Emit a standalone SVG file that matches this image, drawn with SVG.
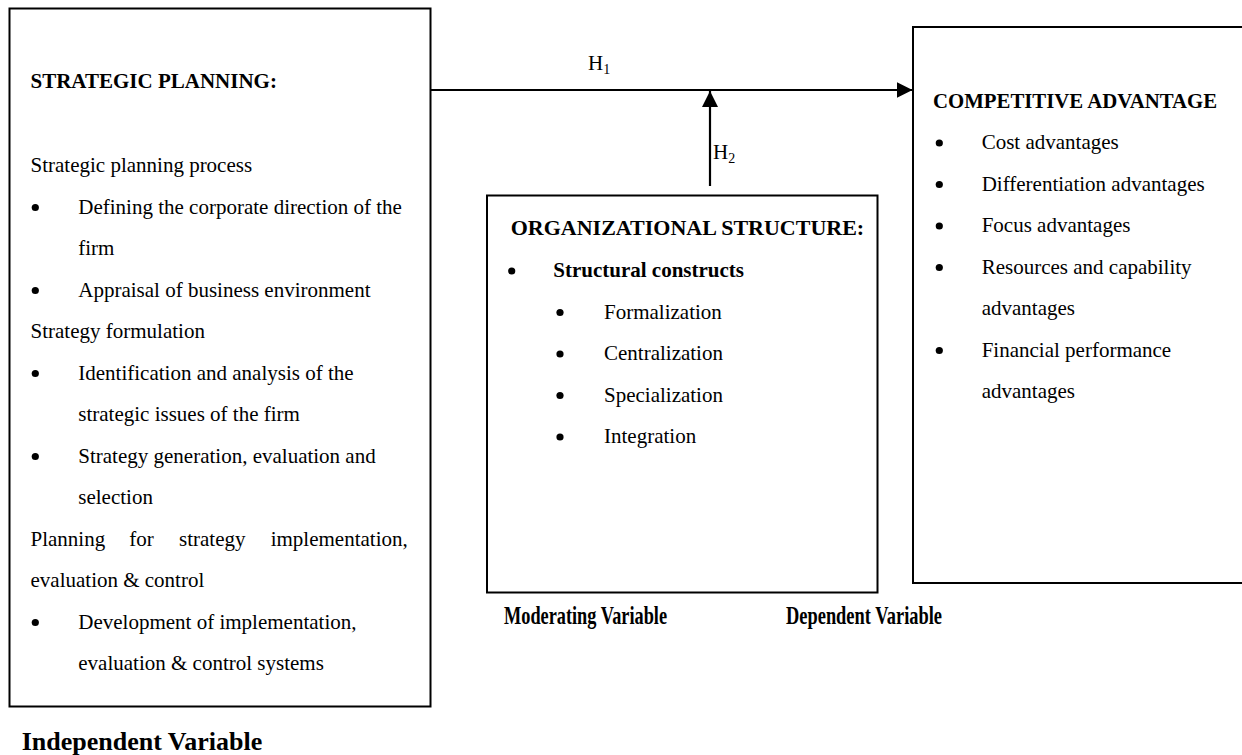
<svg xmlns="http://www.w3.org/2000/svg" width="1242" height="755" viewBox="0 0 1242 755">
<style>
text { font-family: "Liberation Serif", "Times New Roman", serif; font-size: 21px; fill: #000; }
.b { font-weight: bold; }
.lbl { font-weight: bold; font-size: 26px; }
.box { fill: #fff; stroke: #000; stroke-width: 2; }
.conn { stroke: #000; stroke-width: 2.2; fill: none; }
.dot { fill: #000; }
</style>
<defs>
<marker id="ah" viewBox="0 0 10 10" refX="10" refY="5" markerWidth="16" markerHeight="16" markerUnits="userSpaceOnUse" orient="auto">
<path d="M0,0 L10,5 L0,10 Z" fill="#000"/>
</marker>
</defs>
<rect width="1242" height="755" fill="#fff"/>

<g id="independent">
<rect class="box" x="9.5" y="8.5" width="421" height="698"/>
<text class="b" x="30.5" y="88">STRATEGIC PLANNING:</text>
<text x="30.5" y="172">Strategic planning process</text>
<circle class="dot" cx="35.3" cy="207.5" r="3.6"/>
<text x="78.3" y="213.5">Defining the corporate direction of the</text>
<text x="78.3" y="255">firm</text>
<circle class="dot" cx="35.3" cy="290.5" r="3.6"/>
<text x="78.3" y="296.5">Appraisal of business environment</text>
<text x="30.5" y="338">Strategy formulation</text>
<circle class="dot" cx="35.3" cy="373.5" r="3.6"/>
<text x="78.3" y="379.5">Identification and analysis of the</text>
<text x="78.3" y="421">strategic issues of the firm</text>
<circle class="dot" cx="35.3" cy="456.5" r="3.6"/>
<text x="78.3" y="462.5">Strategy generation, evaluation and</text>
<text x="78.3" y="504">selection</text>
<text x="30.5" y="545.5">Planning</text>
<text x="129.3" y="545.5">for</text>
<text x="179" y="545.5">strategy</text>
<text x="270.7" y="545.5">implementation,</text>
<text x="30.5" y="587">evaluation &amp; control</text>
<circle class="dot" cx="35.3" cy="622.5" r="3.6"/>
<text x="78.3" y="628.5">Development of implementation,</text>
<text x="78.3" y="670">evaluation &amp; control systems</text>
<text class="lbl" x="21.7" y="750">Independent Variable</text>
</g>

<g id="moderating">
<rect class="box" x="487" y="195.5" width="390.5" height="397"/>
<text class="b" x="510.7" y="234.5" style="font-size:22px">ORGANIZATIONAL STRUCTURE:</text>
<circle class="dot" cx="511.7" cy="271" r="3.6"/>
<text class="b" x="553.3" y="277">Structural constructs</text>
<circle class="dot" cx="560" cy="312.5" r="3.6"/>
<text x="604" y="318.5">Formalization</text>
<circle class="dot" cx="560" cy="354" r="3.6"/>
<text x="604" y="360">Centralization</text>
<circle class="dot" cx="560" cy="395.5" r="3.6"/>
<text x="604" y="401.5">Specialization</text>
<circle class="dot" cx="560" cy="437" r="3.6"/>
<text x="604" y="443">Integration</text>
<text class="lbl" x="504" y="624" textLength="163" lengthAdjust="spacingAndGlyphs">Moderating Variable</text>
</g>

<g id="dependent">
<rect class="box" x="913" y="27" width="340" height="556"/>
<text class="b" x="933" y="107.5" style="font-size:20.8px">COMPETITIVE ADVANTAGE</text>
<circle class="dot" cx="939.3" cy="143" r="3.6"/>
<text x="981.7" y="149">Cost advantages</text>
<circle class="dot" cx="939.3" cy="184.5" r="3.6"/>
<text x="981.7" y="190.5">Differentiation advantages</text>
<circle class="dot" cx="939.3" cy="226" r="3.6"/>
<text x="981.7" y="232">Focus advantages</text>
<circle class="dot" cx="939.3" cy="267.5" r="3.6"/>
<text x="981.7" y="273.5">Resources and capability</text>
<text x="981.7" y="315">advantages</text>
<circle class="dot" cx="939.3" cy="350.5" r="3.6"/>
<text x="981.7" y="356.5">Financial performance</text>
<text x="981.7" y="398">advantages</text>
<text class="lbl" x="786" y="624" textLength="156" lengthAdjust="spacingAndGlyphs">Dependent Variable</text>
</g>

<g id="connectors">
<line class="conn" x1="430.5" y1="90" x2="912.5" y2="90" marker-end="url(#ah)"/>
<line class="conn" x1="710" y1="186" x2="710" y2="91" marker-end="url(#ah)"/>
<text x="588" y="70">H<tspan font-size="14" dy="4">1</tspan></text>
<text x="713" y="159">H<tspan font-size="14" dy="4">2</tspan></text>
</g>
</svg>
